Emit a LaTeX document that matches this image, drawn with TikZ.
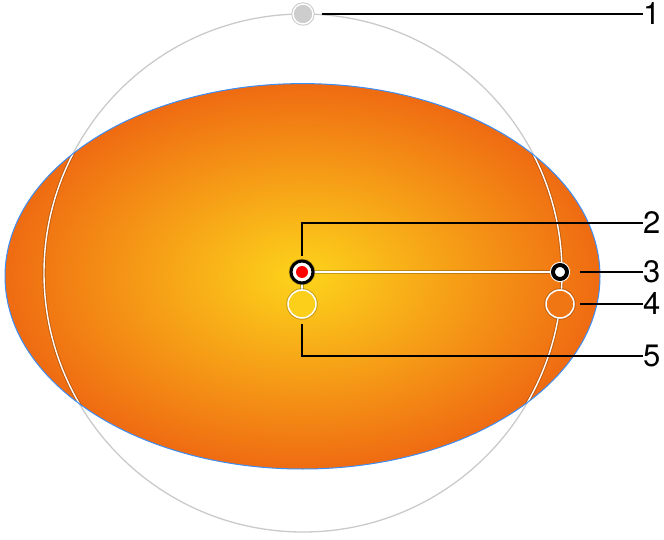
\documentclass[tikz,border=0pt]{standalone}
\usepackage{fontspec}
\setmainfont{TeX Gyre Heros}
\definecolor{cin}{HTML}{FDD41B}
\definecolor{cout}{HTML}{EF6B12}
\definecolor{eblue}{HTML}{3C8EF5}
\definecolor{ringgray}{HTML}{CACACA}
\definecolor{hgray}{HTML}{CDCDCD}
\begin{document}
\begin{tikzpicture}[x=1pt,y=-1pt,
  lab/.style={anchor=west,inner sep=0pt,font=\fontsize{31}{31}\selectfont},
  conn/.style={line width=1.8pt,black},
  hnd/.style={circle,inner sep=0pt,outer sep=0pt},
  shadowline/.style={line width=3.2pt,black,opacity=0.22},
  whiteline/.style={line width=1.4pt,white},
]
\useasboundingbox (0,0) rectangle (664,540);
% outer circle (gray part)
\draw[ringgray, line width=1.3pt] (303,273) circle (259);
% ellipse with radial gradient
\shade[inner color=cin,outer color=cout] (302.5,276.3) ellipse [x radius=297.5,y radius=192.7];
\coordinate (c2) at (302,272);
\coordinate (c3) at (560,272);
\coordinate (c4) at (560,304);
\coordinate (c5) at (302,304);
\coordinate (c5top) at (302,291);
\begin{scope}
  \clip (302.5,276.3) ellipse [x radius=297.5,y radius=192.7];
  \draw[shadowline] (303,273) circle (259);
  \draw[whiteline] (303,273) circle (259);
  \draw[shadowline] (c2) -- (c3);
  \draw[whiteline] (c2) -- (c3);
  \draw[shadowline] (c2) -- (c5top);
  \draw[whiteline] (c2) -- (c5top);
\end{scope}
\draw[eblue, line width=1pt] (302.5,276.3) ellipse [x radius=297.5,y radius=192.7];
% handles
\node[hnd, minimum size=20pt, fill=hgray, draw=white, line width=1.4pt,
      preaction={draw=ringgray,line width=3.4pt}] (h1) at (303,14) {};
\node[hnd, minimum size=22pt, fill=white, draw=black, line width=3pt,
      preaction={draw=black,opacity=0.25,line width=4.6pt}] (h2) at (c2) {};
\node[hnd, minimum size=12pt, fill=red] (r2) at (c2) {};
\node[hnd, minimum size=14pt, fill=white, draw=black, line width=4pt,
      preaction={draw=white,line width=6pt}] (h3) at (c3) {};
\node[hnd, minimum size=28pt, fill=cout!90!cin, draw=white, line width=1.5pt,
      preaction={draw=black,opacity=0.2,line width=3.5pt}] (h4) at (c4) {};
\node[hnd, minimum size=28pt, fill=cin!95!cout, draw=white, line width=1.5pt,
      preaction={draw=black,opacity=0.2,line width=3.5pt}] (h5) at (c5) {};
% labels
\node[lab] (l1) at (643,14) {1};
\node[lab] (l2) at (643,223) {2};
\node[lab] (l3) at (643,272) {3};
\node[lab] (l4) at (643,304) {4};
\node[lab] (l5) at (643,356) {5};
% label connectors
\draw[conn] ([xshift=9pt]h1.east) -- (l1.west);
\draw[conn] ([yshift=5pt]h2.north) |- (l2.west);
\draw[conn] ([xshift=13pt]h3.east) -- (l3.west);
\draw[conn] ([xshift=6pt]h4.east) -- (l4.west);
\draw[conn] ([yshift=-6pt]h5.south) |- (l5.west);
\end{tikzpicture}
\end{document}
